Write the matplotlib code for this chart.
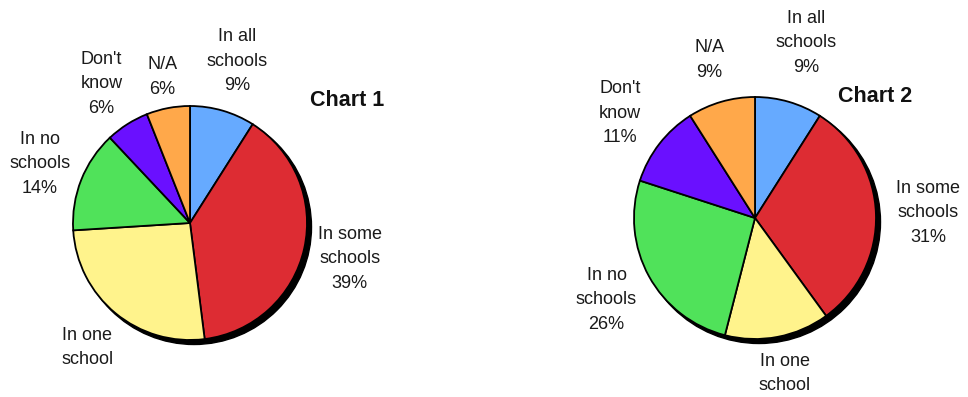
import numpy as np
import matplotlib.pyplot as plt
from matplotlib.patches import Circle

# ---- data ----
categories = ["In all\nschools", "In some\nschools", "In one\nschool",
              "In no\nschools", "Don't\nknow", "N/A"]
chart1_values = [9, 39, 26, 14, 6, 6]
chart2_values = [9, 31, 14, 26, 11, 9]
show_pct = [True, True, False, True, True, True]
titles = ["Chart 1", "Chart 2"]

# ---- style / layout ----
colors = ["#66AAFF", "#DD2C33", "#FFF38C", "#50E25A", "#6A10FF", "#FFA84A"]
W, H = 968, 397
charts = [
    dict(values=chart1_values, center=(190, H - 223), radius=117,
         dist=[1.44, 1.40, 1.38, 1.38, 1.41, 1.27], title_xy=(347, H - 100)),
    dict(values=chart2_values, center=(755, H - 218), radius=121,
         dist=[1.51, 1.43, 1.31, 1.40, 1.41, 1.36], title_xy=(875, H - 97)),
]
label_font = ["Liberation Sans", "DejaVu Sans"]

fig = plt.figure(figsize=(W / 100, H / 100), dpi=100)
ax = fig.add_axes([0, 0, 1, 1])

for ch, title in zip(charts, titles):
    cx, cy = ch["center"]
    r = ch["radius"]
    # drop shadow
    ax.add_patch(Circle((cx + 4, cy - 4), r + 0.5, color="black", zorder=1))
    wedges, _ = ax.pie(ch["values"], colors=colors, startangle=90,
                       counterclock=False, center=(cx, cy), radius=r,
                       wedgeprops=dict(edgecolor="black", linewidth=1.3),
                       frame=True)
    for w in wedges:
        w.set_zorder(2)
    for w, cat, v, sp, d in zip(wedges, categories, ch["values"], show_pct, ch["dist"]):
        mid = np.deg2rad((w.theta1 + w.theta2) / 2)
        txt = f"{cat}\n{v}%" if sp else cat
        ax.text(cx + d * r * np.cos(mid), cy + d * r * np.sin(mid), txt,
                ha="center", va="center", fontsize=13, color="#1a1a1a",
                family=label_font, linespacing=1.58, zorder=3)
    ax.text(*ch["title_xy"], title, ha="center", va="center", fontsize=15.5,
            fontweight="bold", family=label_font, color="#111111", zorder=3)

ax.set_xlim(0, W)
ax.set_ylim(0, H)
ax.set_aspect("equal")
ax.axis("off")
fig.savefig("out.png", dpi=100)
